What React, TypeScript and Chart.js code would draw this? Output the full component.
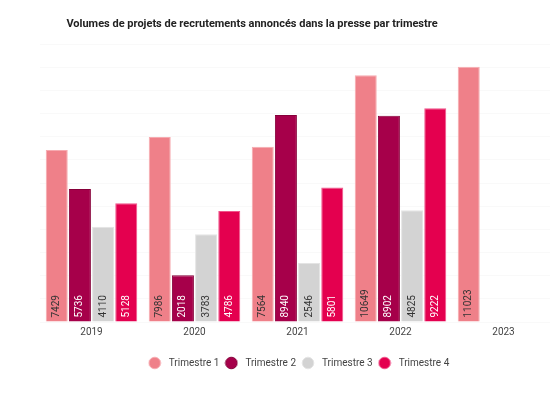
import React, { useEffect, useRef } from "react";
import { Chart, registerables } from "chart.js";

Chart.register(...registerables);

const TITLE = "Volumes de projets de recrutements annoncés dans la presse par trimestre";
const years = ["2019", "2020", "2021", "2022", "2023"];
const trimestre1 = [7429, 7986, 7564, 10649, 11023];
const trimestre2 = [5736, 2018, 8940, 8902, null];
const trimestre3 = [4110, 3783, 2546, 4825, null];
const trimestre4 = [5128, 4786, 5801, 9222, null];
const seriesNames = ["Trimestre 1", "Trimestre 2", "Trimestre 3", "Trimestre 4"];
const fills = ["#ef8089", "#a6004a", "#d3d3d3", "#e4004f"];
const borders = ["#f6aab0", "#86003a", "#e4e4e4", "#f0548a"];
const labelColors = ["#333333", "#ffffff", "#333333", "#ffffff"];

function makeDot(fill: string, stroke: string) {
  const c = document.createElement("canvas");
  c.width = 14;
  c.height = 14;
  const ctx = c.getContext("2d")!;
  ctx.beginPath();
  ctx.arc(7, 7, 5.8, 0, Math.PI * 2);
  ctx.fillStyle = fill;
  ctx.fill();
  ctx.lineWidth = 1;
  ctx.strokeStyle = stroke;
  ctx.stroke();
  return c;
}

const titlePlugin = {
  id: "customTitle",
  afterDraw(chart: any) {
    const ctx = chart.ctx;
    ctx.save();
    ctx.font = "bold 11px Roboto";
    ctx.fillStyle = "#222222";
    ctx.textAlign = "center";
    ctx.textBaseline = "middle";
    ctx.fillText(TITLE, 252, 24);
    ctx.restore();
  },
};

const valueLabelPlugin = {
  id: "valueLabels",
  afterDatasetsDraw(chart: any) {
    const ctx = chart.ctx;
    chart.data.datasets.forEach((ds: any, i: number) => {
      const meta = chart.getDatasetMeta(i);
      meta.data.forEach((bar: any, j: number) => {
        const v = ds.data[j];
        if (v == null) return;
        ctx.save();
        ctx.translate(bar.x, bar.base - 4);
        ctx.rotate(-Math.PI / 2);
        ctx.font = "10px Roboto";
        ctx.fillStyle = labelColors[i];
        ctx.textAlign = "left";
        ctx.textBaseline = "middle";
        ctx.fillText(String(v), 0, 0);
        ctx.restore();
      });
    });
  },
};

export default function App() {
  const ref = useRef<HTMLCanvasElement>(null);
  useEffect(() => {
    if (!ref.current) return;
    const all = [trimestre1, trimestre2, trimestre3, trimestre4];
    const dots = fills.map((f, i) => makeDot(f, borders[i]));
    const chart = new Chart(ref.current, {
      type: "bar",
      data: {
        labels: years,
        datasets: all.map((d, i) => ({
          label: seriesNames[i],
          data: d,
          backgroundColor: fills[i],
          borderColor: borders[i],
          borderWidth: 1,
          categoryPercentage: 0.9,
          barPercentage: 0.95,
        })),
      },
      options: {
        animation: false,
        responsive: false,
        maintainAspectRatio: false,
        layout: { padding: { top: 44, left: 40, right: 40, bottom: 21 } },
        font: { family: "Roboto" },
        plugins: {
          title: { display: false },
          tooltip: { enabled: false },
          legend: {
            position: "bottom",
            labels: {
              usePointStyle: true,
              pointStyleWidth: 18,
              boxHeight: 10,
              padding: 3,
              color: "#444444",
              font: { family: "Roboto", size: 10 },
              generateLabels: (chart: any) => {
                const items = (Chart.defaults.plugins.legend.labels as any).generateLabels(chart);
                return items.map((it: any, i: number) => ({ ...it, pointStyle: dots[i] }));
              },
            },
          },
        },
        scales: {
          x: {
            grid: { display: false, drawTicks: false },
            border: { display: false },
            ticks: { padding: 4, color: "#444444", font: { family: "Roboto", size: 10 } },
            afterFit: (scale: any) => {
              scale.height += 13;
            },
          },
          y: {
            min: 0,
            max: 12000,
            ticks: { display: false, stepSize: 1000 },
            grid: { color: "rgba(0,0,0,0.025)", drawTicks: false },
            border: { display: false },
          },
        },
      } as any,
      plugins: [titlePlugin, valueLabelPlugin],
    });
    return () => chart.destroy();
  }, []);
  return (
    <div style={{ position: "absolute", left: 0, top: 0, width: 550, height: 399, overflow: "hidden", background: "#fff" }}>
      <canvas ref={ref} width={595} height={399} style={{ width: 595, height: 399, display: "block" }} />
    </div>
  );
}
